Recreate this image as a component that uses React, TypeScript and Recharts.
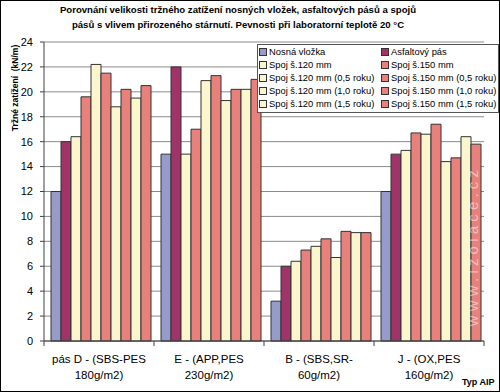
import React from 'react';
import { BarChart, Bar, XAxis, YAxis, CartesianGrid, Legend } from 'recharts';

const categoryTop = ['pás D - (SBS-PES', 'E - (APP,PES', 'B - (SBS,SR-', 'J - (OX,PES'];
const categoryBottom = ['180g/m2)', '230g/m2)', '60g/m2)', '160g/m2)'];

const nosnaVlozka = [12, 15, 3.2, 12];
const asfaltovyPas = [16, 22, 6, 15];
const spoj120 = [16.4, 15, 6.4, 15.3];
const spoj150 = [19.6, 17, 7.3, 16.7];
const spoj120h05 = [22.2, 20.9, 7.6, 16.6];
const spoj150h05 = [21.5, 21.3, 8.2, 17.4];
const spoj120h10 = [18.8, 19.3, 6.7, 14.4];
const spoj150h10 = [20.2, 20.2, 8.8, 14.7];
const spoj120h15 = [19.5, 20.2, 8.7, 16.4];
const spoj150h15 = [20.5, 21.0, 8.7, 15.8];

const yTicks = [0, 2, 4, 6, 8, 10, 12, 14, 16, 18, 20, 22, 24];

const FONT = '"Liberation Sans", Arial, sans-serif';
const BLUE = '#959cc9';
const PURPLE = '#a03468';
const YELLOW = '#fbf6cd';
const RED = '#e8817b';

const series = [
  { key: 'nosna', name: 'Nosná vložka', values: nosnaVlozka, color: BLUE },
  { key: 'asfalt', name: 'Asfaltový pás', values: asfaltovyPas, color: PURPLE },
  { key: 's120', name: 'Spoj š.120 mm', values: spoj120, color: YELLOW },
  { key: 's150', name: 'Spoj š.150 mm', values: spoj150, color: RED },
  { key: 's120_05', name: 'Spoj š.120 mm (0,5 roku)', values: spoj120h05, color: YELLOW },
  { key: 's150_05', name: 'Spoj š.150 mm (0,5 roku)', values: spoj150h05, color: RED },
  { key: 's120_10', name: 'Spoj š.120 mm (1,0 roku)', values: spoj120h10, color: YELLOW },
  { key: 's150_10', name: 'Spoj š.150 mm (1,0 roku)', values: spoj150h10, color: RED },
  { key: 's120_15', name: 'Spoj š.120 mm (1,5 roku)', values: spoj120h15, color: YELLOW },
  { key: 's150_15', name: 'Spoj š.150 mm (1,5 roku)', values: spoj150h15, color: RED },
];

const data = categoryTop.map((top, i) => {
  const row: Record<string, string | number> = { name: top };
  series.forEach((s) => {
    row[s.key] = s.values[i];
  });
  return row;
});

const CategoryTick = (props: any) => {
  const { x, y, payload } = props;
  const idx = categoryTop.indexOf(payload.value);
  const half = payload.offset || 55;
  const last = idx === categoryTop.length - 1;
  return (
    <g>
      <line x1={x - half} x2={x - half} y1={y} y2={y + 5} stroke="#404040" />
      {last && <line x1={x + half} x2={x + half} y1={y} y2={y + 5} stroke="#404040" />}
      <text x={x} y={y} textAnchor="middle" fontSize={11.5} fill="#000" fontFamily={FONT}>
        <tspan x={x} dy={22}>{categoryTop[idx]}</tspan>
        <tspan x={x} dy={16}>{categoryBottom[idx]}</tspan>
      </text>
    </g>
  );
};

// legend keeps the series order (two columns, row by row)
const LegendBox = () => (
  <div
    style={{
      display: 'grid',
      gridTemplateColumns: '122px 118px',
      background: '#fff',
      border: '1px solid #555',
      padding: '0 0 2px 1px',
      fontFamily: FONT,
      fontSize: 9.4,
      lineHeight: '13px',
      color: '#000',
      whiteSpace: 'nowrap',
      overflow: 'hidden',
    }}
  >
    {series.map((s) => (
      <div key={s.key} style={{ display: 'flex', alignItems: 'center' }}>
        <span
          style={{
            display: 'inline-block',
            width: 6,
            height: 6,
            border: '1px solid #333',
            background: s.color,
            marginRight: 2,
            flex: 'none',
          }}
        />
        {s.name}
      </div>
    ))}
  </div>
);

export default function App() {
  return (
    <div style={{ position: 'relative', width: 500, height: 392, background: '#fff', fontFamily: FONT }}>
      <style>{'body{margin:0}'}</style>
      <BarChart
        width={500}
        height={392}
        data={data}
        margin={{ top: 42, right: 16, bottom: 11, left: 0 }}
        barCategoryGap={7}
        barGap={0}
      >
        <CartesianGrid horizontal vertical={false} stroke="#8a8a8a" />
        <XAxis
          dataKey="name"
          height={40}
          tickSize={0}
          tickMargin={0}
          tickLine={false}
          axisLine={{ stroke: '#404040' }}
          tick={<CategoryTick />}
          interval={0}
        />
        <YAxis
          width={44}
          domain={[0, 24]}
          ticks={yTicks}
          tickSize={4}
          tickMargin={7}
          axisLine={{ stroke: '#404040' }}
          tickLine={{ stroke: '#404040' }}
          tick={{ fill: '#000', fontSize: 11, fontFamily: FONT }}
          interval={0}
        />
        <YAxis
          yAxisId="frame"
          orientation="right"
          width={0}
          domain={[0, 24]}
          tick={false}
          tickLine={false}
          axisLine={{ stroke: '#8a8a8a' }}
        />
        <Legend
          layout="vertical"
          align="center"
          verticalAlign="middle"
          content={<LegendBox />}
          wrapperStyle={{ left: 257, top: 44, width: 242 }}
        />
        {series.map((s) => (
          <Bar
            key={s.key}
            dataKey={s.key}
            name={s.name}
            fill={s.color}
            stroke="#333"
            strokeWidth={1}
            isAnimationActive={false}
          />
        ))}
      </BarChart>

      <div
        style={{
          position: 'absolute',
          left: 0,
          top: 2,
          width: 476,
          textAlign: 'center',
          fontSize: 9.6,
          fontWeight: 'bold',
          lineHeight: '15px',
          color: '#000',
        }}
      >
        <div>Porovnání velikosti tržného zatížení nosných vložek, asfaltových pásů a spojů</div>
        <div>pásů s vlivem přirozeného stárnutí. Pevnosti při laboratorní teplotě 20 °C</div>
      </div>

      <div
        style={{
          position: 'absolute',
          left: 15,
          top: 88,
          transform: 'translate(-50%, -50%) rotate(-90deg)',
          fontSize: 8.5,
          fontWeight: 'bold',
          whiteSpace: 'pre',
          color: '#000',
        }}
      >
        {'Tržné zatížení  (kN/m)'}
      </div>

      <div
        style={{
          position: 'absolute',
          left: 472,
          top: 246,
          transform: 'translate(-50%, -50%) rotate(-90deg)',
          fontSize: 15,
          letterSpacing: 4.2,
          whiteSpace: 'nowrap',
          color: 'rgba(255,255,255,0.5)',
          pointerEvents: 'none',
        }}
      >
        www.izolace.cz
      </div>

      <div
        style={{
          position: 'absolute',
          left: 462,
          top: 376,
          fontSize: 9,
          fontWeight: 'bold',
          lineHeight: '12px',
          color: '#000',
        }}
      >
        Typ AIP
      </div>

      <div
        style={{
          position: 'absolute',
          inset: 0,
          border: '1px solid #000',
          pointerEvents: 'none',
        }}
      />
    </div>
  );
}
